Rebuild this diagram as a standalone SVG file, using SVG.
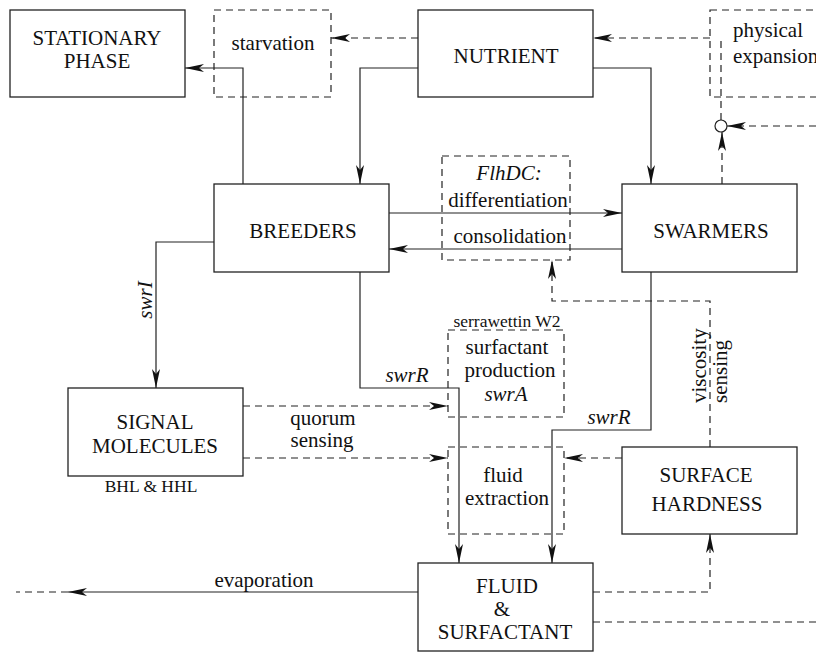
<svg xmlns="http://www.w3.org/2000/svg" width="816" height="652" viewBox="0 0 816 652" font-family="'Liberation Serif', 'Times New Roman', 'DejaVu Serif', serif">
<style>
text{font-family:'Liberation Serif','Times New Roman','DejaVu Serif',serif;font-size:21px;fill:#111;text-anchor:middle}
.it{font-style:italic}
.sm{font-size:17.5px}
.box{fill:none;stroke:#222;stroke-width:1.3}
.dbox{fill:none;stroke:#222;stroke-width:1.2;stroke-dasharray:7 5}
.c{fill:none;stroke:#222;stroke-width:1.2}
.d{fill:none;stroke:#222;stroke-width:1.2;stroke-dasharray:7 5}
.a{marker-end:url(#ah)}
</style>
<defs>
<marker id="ah" markerUnits="userSpaceOnUse" viewBox="-20 -5 21 10" refX="0" refY="0" markerWidth="21" markerHeight="10" orient="auto">
<path d="M0,0 L-19,-4 L-14,0 L-19,4 Z" fill="#111"/>
</marker>
</defs>
<g id="connectors">
<path class="c a" d="M243,184 V68 H185"/>
<path class="c a" d="M418,68 H360 V184"/>
<path class="c a" d="M593,68 H651 V184"/>
<path class="d a" d="M418,38 H331"/>
<path class="d a" d="M710,38 H593"/>
<path class="d" d="M721,120 V36"/>
<path class="d a" d="M816,126 H727"/>
<path class="d a" d="M722,184 V132"/>
<path class="c a" d="M389,213 H622"/>
<path class="c a" d="M622,249 H389"/>
<path class="c a" d="M214,242 H156 V388"/>
<path class="c a" d="M360,272 V388 H459 V563"/>
<path class="c a" d="M651,272 V430 H552 V563"/>
<path class="d a" d="M710,447 V301 H552 V260"/>
<path class="d a" d="M243,406 H448"/>
<path class="d a" d="M243,458 H448"/>
<path class="d a" d="M622,458 H564"/>
<path class="d a" d="M593,592 H710 V534"/>
<path class="d" d="M593,622 H816"/>
<path class="c a" d="M418,592 H68"/>
<path class="d" d="M68,592 H16"/>
<circle cx="721" cy="126" r="6" fill="#fff" stroke="#222" stroke-width="1.2"/>
<text class="it" transform="translate(152,300) rotate(-90)">swrI</text>
<text class="it" x="407" y="382">swrR</text>
<text class="it" x="609" y="424">swrR</text>
<text style="text-anchor:start" transform="translate(706,403) rotate(-90)">viscosity</text>
<text style="text-anchor:start" transform="translate(727,403) rotate(-90)">sensing</text>
<text x="323" y="425">quorum</text>
<text x="322" y="447">sensing</text>
<text x="264" y="587">evaporation</text>
</g>
<g id="stationary">
<rect class="box" x="10" y="10" width="175" height="87"/>
<text x="97" y="45">STATIONARY</text>
<text x="97" y="68">PHASE</text>
</g>
<g id="starvation">
<rect class="dbox" x="214" y="10" width="117" height="87"/>
<text x="273" y="50">starvation</text>
</g>
<g id="nutrient">
<rect class="box" x="418" y="10" width="175" height="87"/>
<text x="506" y="63">NUTRIENT</text>
</g>
<g id="physical-expansion">
<rect class="dbox" x="710" y="10" width="130" height="87"/>
<text style="text-anchor:start" x="733" y="37">physical</text>
<text style="text-anchor:start" x="733" y="63">expansion</text>
</g>
<g id="flhdc">
<rect class="dbox" x="442" y="156" width="128" height="104"/>
<text class="it" x="509" y="180">FlhDC:</text>
<text x="508" y="207">differentiation</text>
<text x="510" y="243">consolidation</text>
</g>
<g id="breeders">
<rect class="box" x="214" y="184" width="175" height="88"/>
<text x="303" y="238">BREEDERS</text>
</g>
<g id="swarmers">
<rect class="box" x="622" y="184" width="175" height="88"/>
<text x="711" y="238">SWARMERS</text>
</g>
<g id="surfactant-production">
<text class="sm" x="507" y="327">serrawettin W2</text>
<rect class="dbox" x="448" y="330" width="116" height="87"/>
<text x="507" y="354">surfactant</text>
<text x="510" y="377">production</text>
<text class="it" x="506" y="401">swrA</text>
</g>
<g id="signal-molecules">
<rect class="box" x="68" y="388" width="175" height="88"/>
<text x="155" y="429">SIGNAL</text>
<text x="155" y="453">MOLECULES</text>
<text class="sm" x="151" y="492">BHL &amp; HHL</text>
</g>
<g id="fluid-extraction">
<rect class="dbox" x="448" y="447" width="116" height="87"/>
<text x="503" y="482">fluid</text>
<text x="507" y="505">extraction</text>
</g>
<g id="surface-hardness">
<rect class="box" x="622" y="447" width="175" height="87"/>
<text x="706" y="482">SURFACE</text>
<text x="707" y="511">HARDNESS</text>
</g>
<g id="fluid-surfactant">
<rect class="box" x="418" y="563" width="175" height="88"/>
<text x="507" y="593">FLUID</text>
<text x="502" y="616">&amp;</text>
<text x="505" y="639">SURFACTANT</text>
</g>
</svg>
